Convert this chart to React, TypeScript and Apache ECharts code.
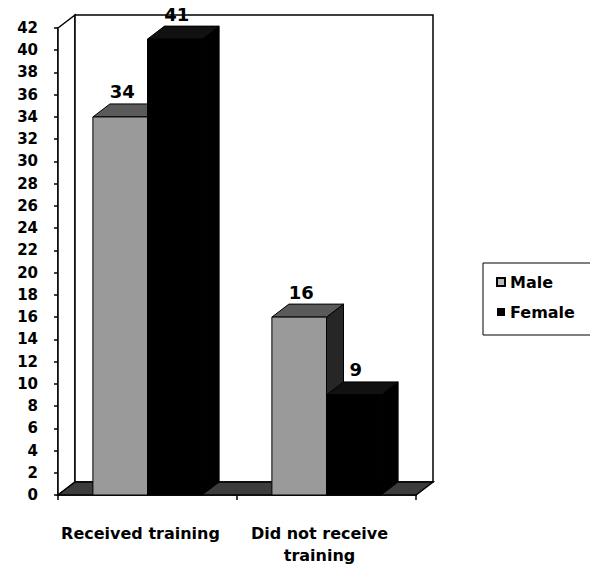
import React, { useEffect, useRef } from 'react';
import * as echarts from 'echarts';

const categories = ['Received training', 'Did not receive\ntraining'];
const seriesNames = ['Male', 'Female'];
const maleValues = [34, 16];
const femaleValues = [41, 9];
const yMin = 0;
const yMax = 42;
const yInterval = 2;

const DX = 17;
const DY = 13;
const FONT = 'DejaVu Sans';

type FaceColors = { front: string; top: string; side: string };

function barRenderer(side: number, colors: FaceColors) {
  return (params: any, api: any) => {
    const cat = api.value(0);
    const v = api.value(1);
    const base = api.coord([cat, 0]);
    const top = api.coord([cat, v]);
    const band = api.size([1, 0])[0];
    const w = band * 0.305;
    const x0 = base[0] + (side === 0 ? -w : 0);
    const x1 = x0 + w;
    const yt = top[1];
    const yb = base[1];
    return {
      type: 'group',
      children: [
        {
          type: 'polygon',
          shape: { points: [[x1, yt], [x1 + DX, yt - DY], [x1 + DX, yb - DY], [x1, yb]] },
          style: { fill: colors.side, stroke: '#000', lineWidth: 1 },
        },
        {
          type: 'polygon',
          shape: { points: [[x0, yt], [x0 + DX, yt - DY], [x1 + DX, yt - DY], [x1, yt]] },
          style: { fill: colors.top, stroke: '#000', lineWidth: 1 },
        },
        {
          type: 'rect',
          shape: { x: x0, y: yt, width: w, height: yb - yt },
          style: { fill: colors.front, stroke: '#000', lineWidth: 1 },
        },
        {
          type: 'text',
          x: x0 + w / 2 + 2,
          y: yt - DY - 12,
          style: {
            text: String(v),
            fontFamily: FONT,
            fontWeight: 'bold',
            fontSize: 18,
            fill: '#000',
            align: 'center',
            verticalAlign: 'middle',
          },
        },
      ],
    };
  };
}

function wallsRenderer(params: any, api: any) {
  const cs = params.coordSys;
  const l = cs.x;
  const t = cs.y;
  const r = cs.x + cs.width;
  const b = cs.y + cs.height;
  return {
    type: 'group',
    children: [
      {
        type: 'polygon',
        shape: { points: [[l, t], [l + DX, t - DY], [l + DX, b - DY], [l, b]] },
        style: { fill: '#fff', stroke: '#000', lineWidth: 1.5 },
      },
      {
        type: 'rect',
        shape: { x: l + DX, y: t - DY, width: r - l, height: b - t },
        style: { fill: '#fff', stroke: '#000', lineWidth: 1.5 },
      },
      {
        type: 'polygon',
        shape: { points: [[l, b], [l + DX, b - DY], [r + DX, b - DY], [r, b]] },
        style: { fill: '#3c3c3c', stroke: '#000', lineWidth: 1.5 },
      },
    ],
  };
}

export default function App() {
  const ref = useRef<HTMLDivElement>(null);
  useEffect(() => {
    if (!ref.current) return;
    const chart = echarts.init(ref.current, undefined, { renderer: 'svg' });
    chart.setOption({
      animation: false,
      backgroundColor: '#fff',
      grid: { left: 58, right: 174, top: 28, bottom: 79, containLabel: false },
      legend: {
        orient: 'vertical',
        left: 483,
        top: 263,
        data: [
          { name: seriesNames[0], itemStyle: { color: '#bbb', borderColor: '#000', borderWidth: 2 } },
          { name: seriesNames[1], itemStyle: { color: '#000' } },
        ],
        icon: 'rect',
        itemWidth: 8,
        itemHeight: 8,
        itemGap: 12,
        padding: [10, 20, 14, 13],
        borderColor: '#000',
        borderWidth: 1,
        selectedMode: false,
        textStyle: { fontFamily: FONT, fontWeight: 'bold', fontSize: 16, lineHeight: 18, color: '#000' },
      },
      xAxis: {
        type: 'category',
        data: categories,
        axisLine: { show: true, lineStyle: { color: '#000', width: 1.5 } },
        axisTick: { show: true, length: 5, lineStyle: { color: '#000', width: 1.5 } },
        axisLabel: {
          interval: 0,
          fontFamily: FONT,
          fontWeight: 'bold',
          fontSize: 16,
          lineHeight: 22,
          color: '#000',
          margin: 27,
          padding: [0, 14, 0, 0],
        },
        splitLine: { show: false },
      },
      yAxis: {
        type: 'value',
        min: yMin,
        max: yMax,
        interval: yInterval,
        axisLine: { show: true, lineStyle: { color: '#000', width: 1.5 } },
        axisTick: { show: true, length: 4, lineStyle: { color: '#000', width: 1.5 } },
        axisLabel: { fontFamily: FONT, fontWeight: 'bold', fontSize: 15, color: '#000', margin: 20 },
        splitLine: { show: false },
      },
      series: [
        {
          type: 'custom',
          name: 'walls',
          z: 1,
          silent: true,
          clip: false,
          data: [[0, 0]],
          renderItem: wallsRenderer,
        },
        {
          type: 'custom',
          name: seriesNames[0],
          z: 3,
          clip: false,
          itemStyle: { color: '#bbb' },
          data: maleValues.map((v, i) => [i, v]),
          renderItem: barRenderer(0, { front: '#9a9a9a', top: '#5a5a5a', side: '#262626' }),
        },
        {
          type: 'custom',
          name: seriesNames[1],
          z: 4,
          clip: false,
          itemStyle: { color: '#000' },
          data: femaleValues.map((v, i) => [i, v]),
          renderItem: barRenderer(1, { front: '#000', top: '#111', side: '#000' }),
        },
      ],
    });
    return () => chart.dispose();
  }, []);
  return (
    <div
      ref={ref}
      style={{ position: 'fixed', left: 0, top: 0, width: 590, height: 574 }}
    />
  );
}
